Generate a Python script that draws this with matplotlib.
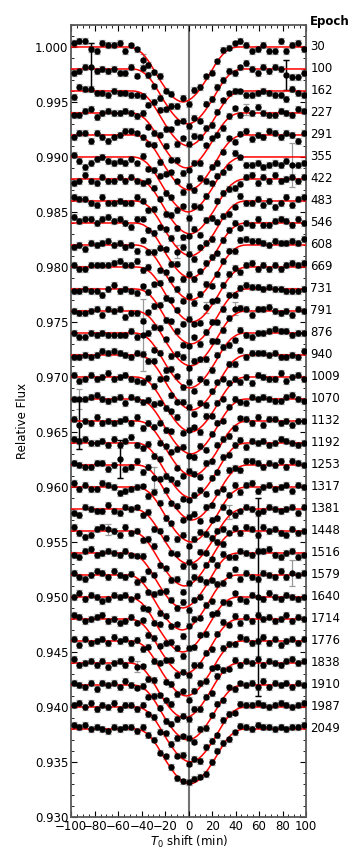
import numpy as np
import matplotlib
matplotlib.use("Agg")
import matplotlib.pyplot as plt
from matplotlib.ticker import MultipleLocator, FormatStrFormatter

# epochs, top to bottom
EPOCHS = [30, 100, 162, 227, 291, 355, 422, 483, 546, 608, 669, 731, 791, 876,
          940, 1009, 1070, 1132, 1192, 1253, 1317, 1381, 1448, 1516, 1579, 1640,
          1714, 1776, 1838, 1910, 1987, 2049]
# mid-transit shift of each epoch (min)
T0_SHIFT = [-4.8, -0.7, -0.5, -2.0, 0.3, -0.5, 1.0, 1.5, 1.5, 2.0, 3.0, 2.0,
            1.5, 1.0, 3.0, 2.0, 2.0, 3.0, 2.0, 3.0, 2.0, 0.0, -3.5, -5.0,
            -5.5, -5.0, -3.5, -2.0, -3.5, -0.5, 1.5, 1.0]
OFFSET_STEP = 0.002
DEPTH = 0.0050

# transit model shape (fraction of depth) at |dt| = 0, 2.5, ..., 50 min
SHAPE_DT = [0, 2.5, 5, 7.5, 10, 12.5, 15, 17.5, 20, 22.5, 25, 27.5, 30, 32.5,
            35, 37.5, 40, 42.5, 45, 47.5, 50]
SHAPE_FRAC = [1.0, 0.99, 0.965, 0.93, 0.88, 0.82, 0.75, 0.67, 0.59, 0.50, 0.41,
              0.32, 0.24, 0.17, 0.11, 0.07, 0.035, 0.015, 0.004, 0.0, 0.0]

# sampling of the points
T_START = -98.0
CADENCE = 4.9

# residuals from the model, in units of RES_UNIT
RES_UNIT = 1.8e-4
RESID = [
    [2, 3, 3, -1, -2, 2, 1, 1, 2, -2, 1, 0, -3, -2, -1, 2, -1, 1, -3, 2, -2, 3, 1, 2, -1, 0, 2, 1, 2, 3, 1, -2, -1, 1, -2, -2, 3, -2, 1, 2, -1],
    [-2, -1, 1, 1, -1, 0, -1, 0, -2, -2, 1, -3, 2, 1, -1, -2, -3, 3, -2, 1, -1, 2, -2, 3, 1, 2, 1, 2, -1, 1, 3, 0, -2, 1, -1, 1, 0, -3, -4, -4, -2],
    [-3, 2, 1, 1, -1, -1, -2, 0, -1, -1, -2, -2, -1, -3, 2, 3, -2, 2, -2, 3, 1, 4, 1, 2, -1, 1, 2, 2, 1, 0, -2, -2, -1, 0, -1, -2, -2, -4, 1, -1, -2],
    [-1, -1, 1, 2, -2, 0, 1, 0, 0, 1, 0, -1, 2, -2, -1, 3, 2, -1, 2, -3, -1, 1, -2, 3, 2, -1, -2, 1, 3, -1, 2, 0, 3, 0, -1, -1, 1, 0, -1, 2, 1],
    [-1, 1, 1, -3, 1, -1, -3, -1, 0, 2, 2, 1, 0, -1, 2, -2, -3, 2, 1, -2, 2, -1, 3, -2, 1, -2, -1, 2, -2, 1, 2, -2, 0, -1, 2, 1, -1, 1, 0, -3, 1],
    [1, -2, -5, -3, -1, 0, -2, -3, -2, -3, -1, -3, 2, -2, 1, 3, -1, 1, -2, 2, -3, 2, -1, 1, 3, 2, -1, -2, 3, 0, -4, -4, -3, -5, -4, -3, -4, -2, -4, -4, -3],
    [-2, -1, 2, -1, -2, 1, -1, -1, 1, -1, 1, -1, -1, 2, 2, 1, -2, 2, -1, -3, -1, 2, -3, 1, -2, 2, 1, -1, -3, -2, 1, 2, -2, 1, -1, 2, -1, 0, 1, -1, 1],
    [2, 1, 1, -1, -2, 2, -1, -1, 0, -1, -1, 2, 1, -2, 2, -3, 1, 1, -2, 3, 1, -2, 2, 1, -1, 3, 1, -2, -1, 3, -1, -1, 1, -2, 0, -3, -1, 2, -2, 1, 2],
    [3, 1, 2, 2, 0, 2, 3, 1, 2, 0, -2, 2, 3, -1, 1, -2, 2, -1, 3, -2, 2, -1, 1, 2, 1, -2, 0, 1, 2, -2, 0, -1, 2, -1, -1, 1, 2, 1, -1, 2, 0],
    [-1, 0, -2, 1, 0, 1, 2, 0, 1, -1, 0, -3, 3, -1, 2, -3, 1, 2, 1, -2, 2, -2, 1, 3, -2, -1, 1, 2, -1, 3, 3, 2, 2, 1, 0, 2, 1, 1, 2, 1, 3],
    [1, -1, -1, 1, 1, 1, 1, 2, 3, 1, 1, 3, -1, 2, -4, 1, -2, 2, 1, -3, 1, -1, -2, 3, 2, -2, 1, 2, 2, -2, 1, 2, -1, 1, -1, 1, -1, 1, 2, 1, 2],
    [-1, -1, 0, -1, -1, -3, 0, 2, -1, 0, -1, -2, 2, 1, -3, 2, -1, 3, 2, -2, -1, 3, -2, 1, 2, -3, -1, 2, -1, 1, 2, 1, 1, 0, 1, 0, 0, -1, -1, -1, 0],
    [0, -1, -1, 0, 1, -2, 1, 0, 1, -3, -1, -1, -4, 2, -2, 2, 1, -3, 2, 3, -1, 2, 1, -2, 3, -2, -1, 1, 3, 2, 1, -2, 1, 1, 2, 0, -1, 0, -2, 1, 0],
    [0, -2, -2, 0, -1, 0, -1, -1, -1, -1, 1, -2, 0, 3, -2, 1, -3, 2, 2, -1, 3, -2, 2, -3, -1, 2, 1, -2, -2, 2, -1, -2, 0, 0, 1, 2, 1, 1, -1, 0, 0],
    [-1, -1, 0, -1, 0, 2, 1, 2, 1, 0, -1, 1, 1, -1, 2, -3, 2, -2, -1, 2, 1, -2, 2, -2, 1, 1, -2, 1, -2, 3, -1, 1, 1, 1, 0, 1, -1, -1, 0, -1, 2],
    [1, -2, -1, 1, -1, 0, 2, -1, 0, 1, -1, -2, -2, 2, 1, -3, -1, 2, 3, -2, 1, 2, -2, 3, -1, 1, -2, 2, 1, -2, 0, -3, 1, 0, -1, -1, 2, -2, 0, 1, -1],
    [0, 0, 0, 1, 2, 0, -1, 0, 1, -2, 1, 0, -1, 2, 3, -2, -1, 3, -2, 2, -1, -2, 2, -3, 1, 2, -2, 1, 2, -1, -2, 1, 0, 1, 0, -1, -1, 1, 2, 0, -1],
    [1, -2, 0, -1, 2, -1, 0, -1, 0, 1, -1, 2, -3, 1, 2, -2, 1, 3, -1, -2, 2, 1, -2, 2, -1, 3, 1, -2, -1, 2, 1, -1, 2, -2, 1, 1, -1, 0, -2, 0, 0],
    [2, 1, 2, 0, 0, 1, -1, 2, -1, 1, 3, -1, -2, 2, -1, 2, -2, 1, 3, -2, -1, 1, 2, -3, 1, -1, 2, -1, 1, 2, -2, 1, 0, 1, -1, 0, 2, 1, 0, -1, 0],
    [1, 0, -1, -1, 1, 1, -2, 0, 3, -2, -1, 2, -3, 1, -2, 2, 1, -1, 2, -2, 1, 3, -2, 2, -1, 1, -2, 3, 1, -2, 2, 2, 1, -1, 1, 0, 2, -1, 2, 1, 0],
    [2, -1, 1, -1, -1, 2, 1, 0, -3, -2, -1, 0, 1, -2, 3, 2, -1, 1, -3, 2, -2, 1, 3, -1, 2, -2, -1, 1, 3, -2, 1, 2, -2, 0, 1, -1, 0, 1, -2, 1, 0],
    [-2, -3, 1, 0, -1, -1, 2, -1, -2, 1, 0, 1, -2, 2, -3, 1, 2, -1, 2, -2, 1, -2, 3, -1, 2, 1, -3, 2, -2, -1, 1, 0, -2, -1, 1, 0, -1, 0, 1, -2, 1],
    [2, -1, -3, -2, 1, 2, 1, 0, -2, 2, -1, 1, -2, 2, 3, -2, 1, -1, 2, -3, 1, 2, -2, 1, -1, 3, -2, 1, 2, -1, 2, 1, -2, 2, 0, 1, -1, -2, 1, -1, 0],
    [-1, -2, 1, 2, -1, 0, 1, 0, -1, 1, -1, 0, 2, -2, 1, -3, 2, 1, -1, 3, -2, 1, -1, 2, -2, 1, 3, -1, -2, 1, 0, -1, 1, 1, 2, -1, -2, 0, 1, -2, -1],
    [1, -1, -2, 0, 2, 1, -1, 2, 0, -1, 1, -2, 2, -1, 3, -2, 1, -1, 2, -3, 1, 2, -1, 1, -2, 2, -1, 1, 3, -2, 1, -1, -2, 1, 0, -1, 2, -1, 1, 0, 1],
    [0, 2, -1, 1, 0, -2, -1, 1, 0, 1, -1, 2, -2, 1, -1, 3, -2, 2, 1, -2, 1, -1, 2, -2, 3, -1, 1, -2, 2, -1, -2, 1, 0, -1, 2, 0, -1, 1, 0, -1, 0],
    [2, 1, -1, 0, 1, 2, -1, 0, -2, -1, 1, -1, 2, -2, 1, 2, -1, 3, -2, 1, -1, 2, -1, 1, -2, 1, 3, -1, 2, -2, 1, -1, 2, 0, 1, -1, 0, 2, -1, 1, 0],
    [1, -2, 1, -1, 0, 1, -1, 2, 0, 1, -1, 1, -2, 2, -1, 3, -2, 1, -1, 2, -2, 1, 2, -1, 1, -3, 2, 1, -1, 2, 1, -1, 0, 2, -1, 1, -2, 0, 1, -1, 1],
    [2, -1, 0, 1, -1, 1, -2, 0, 1, -1, 2, -1, 1, -2, 2, -1, 1, 3, -2, 1, -1, 2, -1, 1, -2, 2, 1, -1, 2, -1, 1, 0, 2, -1, 1, 0, -1, 1, 2, 0, 1],
    [1, 0, -1, 1, -2, 1, 0, 1, -1, 2, 0, -1, 1, -2, 2, 1, -1, 2, -2, 1, 1, -2, 2, -1, 1, 2, -1, 2, -1, 1, 0, 1, -1, 2, -1, 1, 0, 1, -1, 1, 0],
    [1, 2, 0, 2, -1, 1, 0, 2, -1, 1, 1, -1, 2, -1, 1, -2, 2, 1, -1, 2, -1, 1, -2, 2, 1, -1, 2, 1, -1, 2, 1, 1, 2, 1, 0, 1, 2, 1, 0, 1, 2],
    [2, 1, 2, 0, 1, 0, -1, 1, 0, 1, 1, -1, 2, 0, 1, -1, 2, 1, -1, 0, 1, 2, 1, -1, 1, 2, 1, -1, 0, 2, 1, 0, 2, 1, 1, 0, 1, 0, 1, 1, 2],
]
ERR_DEFAULT = 2.5e-4
# (epoch row, point index, error in 1e-4, colour) for the larger error bars
BIG_ERR = [(1, 3, 22, "k"), (1, 37, 14, "k"), (5, 38, 20, "0.5"),
           (13, 12, 33, "0.5"), (16, 1, 9, "0.5"), (17, 1, 22, "k"),
           (19, 8, 17, "k"), (19, 14, 10, "0.5"), (25, 32, 90, "k"),
           (24, 38, 12, "0.5"), (3, 30, 5, "0.5"), (7, 18, 6, "0.5"),
           (10, 23, 5, "0.5"), (21, 27, 6, "0.5"), (28, 11, 5, "0.5"),
           (0, 12, 5, "0.5"), (12, 28, 6, "0.5"), (22, 6, 5, "0.5")]

plt.rcParams["font.size"] = 8.5
fig = plt.figure(figsize=(3.6, 8.64), dpi=100)
ax = fig.add_axes([0.198, 0.0544, 0.652, 0.9167])

shape_dt = np.array(SHAPE_DT)
shape_frac = np.array(SHAPE_FRAC)
model_dt = np.concatenate([-shape_dt[::-1], shape_dt[1:]])
model_frac = np.concatenate([shape_frac[::-1], shape_frac[1:]])

for k, (ep, t0, res) in enumerate(zip(EPOCHS, T0_SHIFT, RESID)):
    base = 1.0 - k * OFFSET_STEP
    t = T_START + CADENCE * np.arange(len(res))
    frac = np.interp(t - t0, model_dt, model_frac, left=0.0, right=0.0)
    flux = base - DEPTH * frac + np.array(res) * RES_UNIT
    err = np.full(len(res), ERR_DEFAULT)
    big = [(i, e, c) for (r, i, e, c) in BIG_ERR if r == k]
    for i, e, c in big:
        err[i] = e * 1e-4
    ax.errorbar(t, flux, yerr=err, fmt="none", ecolor="0.6", elinewidth=0.9,
                capsize=2, capthick=0.9, zorder=2)
    for i, e, c in big:
        if c == "k":
            ax.errorbar(t[i], flux[i], yerr=e * 1e-4, fmt="none", ecolor="k",
                        elinewidth=1.0, capsize=2, zorder=2.5)
    ax.plot(t, flux, "o", color="k", ms=4.6, mew=0, zorder=3)

    mx = np.concatenate([[-100.0], t0 + model_dt, [100.0]])
    my = np.concatenate([[base], base - DEPTH * model_frac, [base]])
    ax.plot(mx, my, "-", color="red", lw=1.1, zorder=2.8)
    ax.text(1.018, base, str(ep), transform=ax.get_yaxis_transform(),
            ha="left", va="center", fontsize=8.5)

ax.text(1.018, 1.0023, "Epoch", transform=ax.get_yaxis_transform(),
        ha="left", va="center", fontsize=8.5, fontweight="bold")

ax.axvline(0, color="0.45", lw=1.5, zorder=1)
ax.set_xlim(-100, 100)
ax.set_ylim(0.930, 1.002)
ax.xaxis.set_major_locator(MultipleLocator(20))
ax.xaxis.set_minor_locator(MultipleLocator(5))
ax.yaxis.set_major_locator(MultipleLocator(0.005))
ax.yaxis.set_minor_locator(MultipleLocator(0.001))
ax.yaxis.set_major_formatter(FormatStrFormatter("%.3f"))
ax.tick_params(which="both", direction="in", top=True, right=True,
               labelsize=8.5, pad=2)
ax.tick_params(which="major", length=4, width=0.8)
ax.tick_params(which="minor", length=2, width=0.6)
for s in ax.spines.values():
    s.set_color("0.35")
    s.set_linewidth(1.3)
ax.set_xlabel(r"$T_0$ shift (min)", fontsize=8.5, labelpad=1)
ax.set_ylabel("Relative Flux", fontsize=8.5, labelpad=4)

fig.savefig("out.png", dpi=100)
